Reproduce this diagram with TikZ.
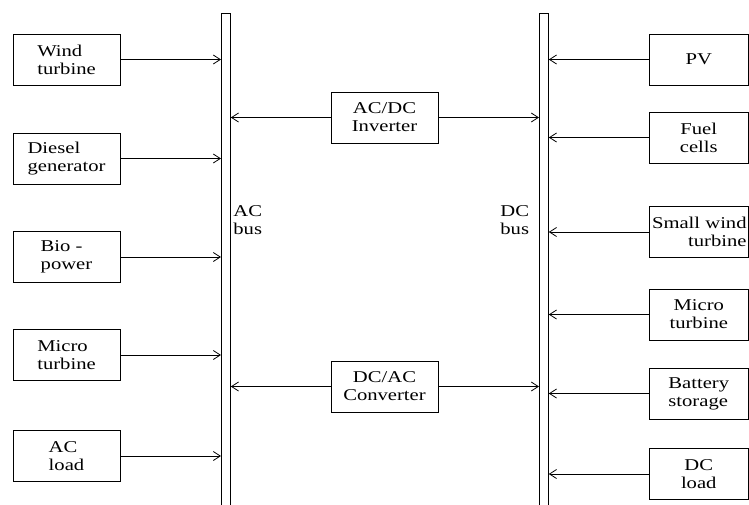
\documentclass[tikz,border=0pt]{standalone}
\usepackage{fontspec}
\setmainfont{Liberation Serif}[FakeStretch=1.25]
\usetikzlibrary{arrows.meta}
\newcommand{\fs}{\fontsize{16.5}{18}\selectfont}
\begin{document}
\begin{tikzpicture}[x=1pt,y=-1pt, line width=0.8pt,
  box/.style={draw, inner sep=0pt, font=\fs, align=center},
  lbox/.style={box, align=left, minimum width=107pt, minimum height=51pt},
  rbox/.style={box, minimum width=99.5pt, minimum height=51pt},
  mbox/.style={box, minimum width=107pt, minimum height=51pt},
  bus/.style={draw, inner sep=0pt, minimum width=9pt, minimum height=510pt, anchor=north west},
  conn/.style={-{Straight Barb[length=7pt,width=9pt]}}]
\useasboundingbox (0,0) rectangle (749,504);
\clip (0,0) rectangle (749,504);
% buses
\node[bus] (acbus) at (221,13) {};
\node[bus] (dcbus) at (539,13) {};
% left sources
\node[lbox] (wind) at (66.5,59.5) {Wind\\turbine};
\node[lbox] (diesel) at (66.5,158.5) {Diesel\\generator};
\node[lbox] (bio) at (66.5,257) {Bio -\\power};
\node[lbox] (micro) at (66.5,355) {Micro\\turbine};
\node[lbox] (acload) at (66.5,456) {AC\\load};
% right sources
\node[rbox] (pv) at (698.75,59.5) {PV};
\node[rbox] (fuel) at (698.75,137.5) {Fuel\\cells};
\node[rbox] (swt) at (698.75,232) {};
\node[font=\fs, align=right, anchor=east, inner sep=0pt] (swtt) at (747,232) {Small wind\\turbine};
\node[rbox] (micro2) at (698.75,314.5) {Micro\\turbine};
\node[rbox, align=left] (batt) at (698.75,393.5) {Battery\\storage};
\node[rbox] (dcload) at (698.75,474) {DC\\load};
% middle converters
\node[mbox] (inv) at (384.5,117.5) {AC/DC\\Inverter};
\node[mbox] (conv) at (384.5,386.5) {DC/AC\\Converter};
% bus labels
\node[font=\fs, align=left, anchor=north west, inner sep=0pt] (aclab) at (233,205) {AC\\bus};
\node[font=\fs, align=left, anchor=north west, inner sep=0pt] (dclab) at (500,205) {DC\\bus};
% connectors left
\foreach \n in {wind,diesel,bio,micro,acload}
  \draw[conn] (\n.east) -- (\n.east -| acbus.west);
% connectors right
\foreach \n in {pv,fuel,swt,micro2,batt,dcload}
  \draw[conn] (\n.west) -- (\n.west -| dcbus.east);
% middle
\foreach \n in {inv,conv}{
  \draw[conn] (\n.west) -- (\n.west -| acbus.east);
  \draw[conn] (\n.east) -- (\n.east -| dcbus.west);
}
\end{tikzpicture}
\end{document}
